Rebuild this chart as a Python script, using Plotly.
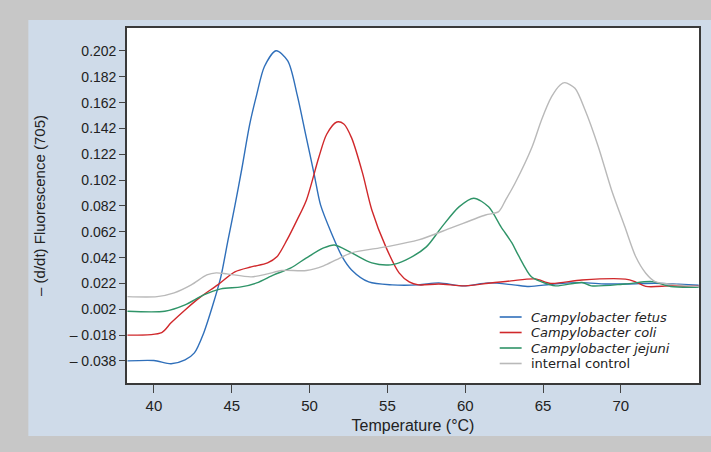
import plotly.graph_objects as go

# ---------------- data ----------------
fetus_x = [38.3, 40.0, 41.1, 42.0, 42.6, 43.2, 43.75, 44.3, 44.75, 45.2, 45.65, 46.15, 46.6, 47.1, 47.85,
           48.6, 49.2, 49.75, 50.3, 50.7, 51.4, 52.1, 52.7, 53.8, 55.3, 57.0, 58.3, 59.9, 61.5, 63.1,
           64.1, 65.7, 67.5, 69.0, 70.5, 72.2, 73.7, 75.0]
fetus_y = [-0.038, -0.0377, -0.0402, -0.0372, -0.0318, -0.0163, 0.0039, 0.0271, 0.055, 0.082, 0.111,
           0.145, 0.168, 0.190, 0.2022, 0.1943, 0.1682, 0.1372, 0.1063, 0.083, 0.0611, 0.0426, 0.0325,
           0.0232, 0.0209, 0.0209, 0.0224, 0.0201, 0.0224, 0.0209, 0.0196, 0.0216, 0.0226, 0.0216,
           0.0216, 0.0222, 0.0214, 0.0206]

coli_x = [38.3, 40.5, 41.1, 42.0, 43.0, 44.1, 45.2, 46.25, 47.3, 47.9, 48.55, 49.2, 49.8, 50.6, 51.1,
          51.75, 52.2, 52.7, 53.4, 54.0, 54.9, 55.75, 56.4, 57.0, 58.3, 60.0, 61.5, 62.95, 64.5, 65.5,
          67.5, 70.3, 70.9, 71.6, 73.2, 75.0]
coli_y = [-0.018, -0.016, -0.0085, 0.0015, 0.0116, 0.0209, 0.031, 0.0348, 0.0379, 0.0426, 0.0557,
          0.0712, 0.0867, 0.1199, 0.1375, 0.147, 0.1455, 0.1347, 0.1076, 0.0789, 0.0503, 0.0302,
          0.0232, 0.0209, 0.0216, 0.0201, 0.0222, 0.024, 0.0255, 0.022, 0.0247, 0.0253, 0.0234,
          0.0197, 0.0201, 0.0199]

jejuni_x = [38.3, 40.7, 42.0, 43.2, 44.3, 45.6, 46.6, 47.7, 48.8, 49.8, 50.9, 51.6, 52.7, 54.0, 55.2,
            56.2, 57.5, 58.5, 59.6, 60.55, 61.5, 62.3, 63.0, 63.4, 64.25, 64.9, 65.8, 67.5, 68.1,
            70.3, 72.0, 73.2, 75.0]
jejuni_y = [0.0005, 0.0005, 0.0054, 0.0131, 0.0178, 0.0193, 0.0224, 0.0286, 0.034, 0.0418, 0.0495,
            0.0518, 0.0457, 0.0379, 0.0364, 0.0403, 0.0503, 0.0658, 0.0813, 0.088, 0.0813, 0.0658,
            0.0534, 0.0441, 0.0271, 0.0232, 0.0201, 0.0227, 0.0201, 0.0216, 0.0234, 0.0196, 0.0191]

control_x = [38.3, 40.2, 41.3, 42.4, 43.4, 44.0, 44.7, 46.25, 47.3, 48.2, 49.8, 50.9, 51.7, 52.7, 54.9,
             57.0, 59.1, 61.3, 62.15, 62.6, 63.2, 64.3, 64.9, 65.55, 66.1, 66.4, 67.05, 67.7, 68.55,
             69.4, 70.25, 70.95, 71.6, 72.2, 73.7, 75.0]
control_y = [0.0118, 0.0118, 0.0147, 0.0209, 0.0286, 0.0302, 0.0294, 0.0271, 0.0294, 0.032, 0.032,
             0.0356, 0.0402, 0.0457, 0.0503, 0.0557, 0.065, 0.075, 0.0776, 0.0867, 0.0996, 0.1279,
             0.1486, 0.1666, 0.1757, 0.1775, 0.1731, 0.1563, 0.1279, 0.0944, 0.066, 0.0428, 0.0299,
             0.0234, 0.0209, 0.0196]

series_names = ["<i>Campylobacter fetus</i>", "<i>Campylobacter coli</i>",
                "<i>Campylobacter jejuni</i>", "internal control"]
series_colors = ["#2f6fba", "#d0282b", "#2f9468", "#b9b9b9"]

y_tick_vals = [0.202, 0.182, 0.162, 0.142, 0.122, 0.102, 0.082, 0.062, 0.042, 0.022, 0.002, -0.018, -0.038]
y_tick_text = ["0.202", "0.182", "0.162", "0.142", "0.122", "0.102", "0.082", "0.062", "0.042",
               "0.022", "0.002", "– 0.018", "– 0.038"]
x_tick_vals = [40, 45, 50, 55, 60, 65, 70]

FONT = "Liberation Sans, Arial, sans-serif"
LEG_FONT = "DejaVu Sans, Liberation Sans, sans-serif"
TXT = "#222222"

L, R, T, B = 127, 10, 28, 69
W, H = 711, 452
pw, ph = W - L - R, H - T - B


def px_x(p):
    return (p - L) / pw


def px_y(p):
    return (H - B - p) / ph


fig = go.Figure()
for xs, ys, name, col in zip([fetus_x, coli_x, jejuni_x, control_x],
                             [fetus_y, coli_y, jejuni_y, control_y],
                             series_names, series_colors):
    fig.add_trace(go.Scatter(x=xs, y=ys, name=name, mode="lines", showlegend=False,
                             line=dict(color=col, width=1.4, shape="spline", smoothing=0.8)))

shapes = [
    dict(type="rect", xref="paper", yref="paper", layer="below",
         x0=px_x(28), x1=px_x(720), y0=px_y(436), y1=px_y(20),
         fillcolor="#cfdbe9", line=dict(width=0)),
    dict(type="rect", xref="paper", yref="paper", layer="below",
         x0=0, x1=1, y0=0, y1=1, fillcolor="white", line=dict(width=0)),
]
annotations = []
legend_rows = [317.0, 332.5, 348.0, 363.5]
for name, col, yy in zip(series_names, series_colors, legend_rows):
    shapes.append(dict(type="line", xref="paper", yref="paper",
                       x0=px_x(501), x1=px_x(523), y0=px_y(yy), y1=px_y(yy),
                       line=dict(color=col, width=1.6)))
    annotations.append(dict(text=name, xref="paper", yref="paper", x=px_x(531), y=px_y(yy),
                            xanchor="left", yanchor="middle", showarrow=False,
                            borderpad=0,
                            font=dict(size=13, color=TXT, family=LEG_FONT)))

fig.update_layout(
    width=W, height=H,
    margin=dict(l=L, r=R, t=T, b=B),
    paper_bgcolor="#c7c7c7",
    plot_bgcolor="white",
    font=dict(family=FONT, size=14, color=TXT),
    showlegend=False,
    shapes=shapes,
    annotations=annotations,
)

fig.update_xaxes(range=[38.27, 75.02], tickvals=x_tick_vals, ticks="outside", ticklen=8,
                 tickcolor="#444444", showgrid=False, zeroline=False,
                 showline=True, linecolor="#3a3a3a", linewidth=1.6, mirror=True,
                 title=dict(text="Temperature (°C)", standoff=7, font=dict(size=16)),
                 tickfont=dict(size=15))
fig.update_yaxes(range=[-0.0551, 0.2198], tickvals=y_tick_vals, ticktext=y_tick_text,
                 ticks="outside", ticklen=6, tickcolor="#444444", showgrid=False, zeroline=False,
                 showline=True, linecolor="#3a3a3a", linewidth=1.6, mirror=True,
                 title=dict(text="– (d/dt) Fluorescence (705)", standoff=20, font=dict(size=15)),
                 tickfont=dict(size=14))

fig.write_html("out.html", config={"displayModeBar": False},
               post_script="document.body.style.margin='0';document.body.style.overflow='hidden';")
